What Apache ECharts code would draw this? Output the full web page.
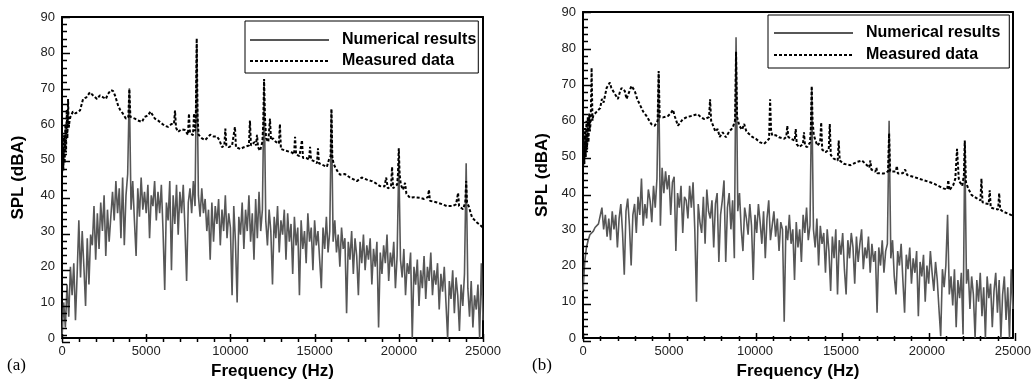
<!DOCTYPE html>
<html>
<head>
<meta charset="utf-8">
<script src="https://cdn.jsdelivr.net/npm/echarts@6/dist/echarts.min.js"></script>
<style>
  html, body { margin: 0; padding: 0; background: #fff; }
  #chart { width: 1034px; height: 385px; }
</style>
</head>
<body>
<div id="chart"></div>
<script>
// numerical results, one value every 100 Hz from 0 to 25000 Hz
const freqStep = 100
const numA = [
  0, 10, 3, 15, 6, 20, 12, 21, 5, 18,
  33, 17, 30, 20, 9, 28, 15, 29, 26, 37,
  22, 35, 25, 38, 30, 40, 23, 36, 27, 34,
  41, 33, 44, 35, 42, 28, 45, 26, 40, 46,
  70, 36, 44, 33, 23, 42, 34, 45, 36, 41,
  35, 43, 28, 40, 37, 44, 33, 41, 35, 43,
  30, 13.5, 38, 33, 44, 19, 40, 32, 43, 29,
  41, 35, 43, 31, 16, 38, 42, 35, 44, 37,
  82, 40, 34, 42, 35, 39, 30, 36, 22, 38,
  27, 37, 32, 39, 26, 36, 30, 40, 28, 35,
  31, 12, 37, 27, 10, 34, 29, 38, 25, 36,
  30, 40, 27, 35, 22, 39, 28, 41, 30, 36,
  72, 33, 26, 36, 30, 15, 34, 28, 37, 24,
  33, 29, 36, 22, 35, 27, 32, 18, 34, 26,
  31, 12, 33, 25, 30, 21, 35, 27, 31, 19,
  33, 26, 30, 22, 14, 31, 25, 34, 24, 30,
  64, 27, 33, 24, 29, 20, 31, 25, 28, 7,
  27, 22, 30, 18, 28, 23, 12, 27, 21, 29,
  19, 26, 22, 28, 15, 25, 20, 27, 3, 24,
  18, 26, 21, 29, 16, 24, 20, 27, 14, 23,
  50, 22, 17, 25, 12, 21, 18, 24, 0, 20,
  15, 22, 9, 19, 14, 23, 11, 20, 16, 24,
  12, 19, 15, 21, 8, 18, 13, 20, 10, 0,
  16, 11, 19, 7, 17, 12, 2, 15, 9, 18,
  49, 14, 6, 16, 3, 12, 8, 15, 0, 21,
  5
]
const numB = [
  13, 21, 25, 27, 28.5, 29, 29.5, 30.5, 31, 31.5,
  32, 36, 30, 34, 28, 33, 27, 35, 30, 34,
  25, 33, 37, 29, 17.5, 35, 38.5, 31, 20, 34,
  37, 29, 39, 34, 44, 31, 37, 33, 41, 38,
  32, 42, 36, 44, 73, 31, 47, 40, 46, 41,
  45, 34, 43, 44.5, 24, 40, 36, 42, 29, 39,
  38, 33, 42, 36, 43, 30, 10, 37, 32, 29,
  39, 26, 41, 35, 33, 38, 25, 37, 40, 21,
  34, 38, 43.5, 21, 36, 40, 30, 38, 22, 83,
  35, 40, 30, 24, 36, 33, 28.5, 37, 31, 16,
  34, 29, 37, 32, 26, 35, 22, 33, 38, 27,
  31, 35, 28, 33, 24, 32, 30, 4.5, 31, 27,
  34, 26, 30, 16, 32, 25, 30, 21, 34, 29,
  36, 27, 31, 69, 30, 25, 33, 20, 31, 26,
  29, 18, 30, 24, 13, 28, 22, 30, 12, 27,
  23, 29, 19, 12, 27, 22, 29, 25, 15, 28,
  21, 26, 30, 19, 25, 22, 28, 18, 26, 21,
  24, 7, 25, 20, 27, 18, 24, 26, 60, 22,
  27, 17, 12, 24, 20, 26, 16, 7, 23, 19,
  25, 15, 22, 18, 24, 6, 21, 17, 23, 10,
  20, 15, 24, 18, 13, 21, 16, 8, 0.5, 19,
  14, 20, 34, 12, 17, 9, 19, 3, 16, 11,
  18, 1, 54, 15, 19, 8, 17, 12, 0, 16,
  10, 18, 6, 14, 0, 17, 11, 15, 3, 13,
  18, 7, 16, 0, 12, 17, 5, 14, 0, 19,
  8
]

const measFreqA = [0, 40, 80, 120, 160, 200, 240, 280, 320, 360, 400, 450, 500, 650, 800, 1070, 1250, 1450, 1660, 1850,
  2080, 2250, 2440, 2600, 2730, 2900, 3030, 3150, 3330, 3450, 3620, 3800, 3940, 4000, 4060, 4330, 4500, 4750, 4900,
  5110, 5250, 5520, 5700, 5940, 6100, 6290, 6500, 6650, 6710, 6770, 6890, 7100, 7300, 7480, 7540, 7600, 7780, 7840,
  7900, 7950, 8000, 8050, 8110, 8310, 8500, 8610, 8800, 9000, 9200, 9350, 9500, 9640, 9700, 9760, 9900, 10100, 10210,
  10270, 10330, 10600, 10800, 11100, 11160, 11220, 11450, 11520, 11580, 11640, 11760, 11900, 11950, 12000, 12050,
  12120, 12250, 12300, 12350, 12410, 12530, 12700, 12880, 12940, 13000, 13300, 13660, 13780, 13840, 13900, 14100,
  14190, 14250, 14310, 14500, 14670, 14730, 14790, 15000, 15140, 15200, 15260, 15500, 15730, 15850, 15950, 16000,
  16050, 16120, 16210, 16390, 16510, 16800, 17100, 17510, 17800, 18110, 18400, 18600, 18880, 19150, 19250, 19350,
  19540, 19600, 19660, 19770, 19900, 19950, 20000, 20050, 20120, 20250, 20370, 20450, 20660, 20900, 21260, 21500,
  21730, 21790, 21850, 22270, 22600, 22860, 23200, 23400, 23460, 23520, 23580, 23810, 23950, 24000, 24050, 24150,
  24350, 24640, 25000]
const measSplA = [45, 53, 47, 57, 49, 60, 52, 64, 56, 67, 59, 61, 62, 63.5, 63, 63.8, 67, 67.5, 68.9, 68,
  67, 68, 67.5, 67, 68.4, 69.5, 69.3, 68, 65.2, 64, 62.9, 61.5, 62, 69.8, 62, 61.5, 61, 60.6, 62,
  62.4, 63.5, 61.5, 61, 60.1, 59.5, 59.2, 60, 60, 63.8, 59, 57.8, 58.5, 58.3, 57, 62.9, 57.5, 56.9, 63,
  58, 63, 84, 62, 57, 56, 55.5, 55.5, 57, 56.5, 56.5, 55.5, 53.5, 54, 58.7, 54, 53.5, 54, 54,
  59.2, 53.5, 53, 53.5, 54, 61, 54, 55, 54, 57, 53.5, 52.5, 55, 60, 72.6, 62,
  56, 55, 55, 61.5, 55.5, 56, 55, 54.5, 60, 53, 52.5, 52, 51.5, 56.4, 51.5, 51,
  51, 55.5, 50.5, 50.5, 50, 53.6, 50, 49.5, 49, 53.2, 49, 48.5, 48, 50, 51, 64.3,
  51, 49, 48, 46.5, 45.8, 46, 45, 44, 45, 44.4, 44, 43.5, 42.6, 42.5, 45, 42,
  42.5, 48, 42, 41.6, 43, 46, 53.2, 46, 43, 41.6, 43.5, 40.5, 39.3, 39.5, 39.3, 39,
  39.5, 41.6, 38.5, 38, 37.5, 37, 37, 37.5, 38, 40.7, 37, 36.1, 38, 44, 38, 37,
  33.8, 32.4, 31]

const measFreqB = [0, 40, 80, 120, 160, 200, 240, 280, 320, 360, 400, 450, 500, 550, 600, 800, 1000, 1100, 1200, 1370,
  1560, 1650, 1740, 1900, 2030, 2150, 2240, 2430, 2530, 2620, 2820, 3010, 3150, 3300, 3500, 3690, 3980, 4170, 4340,
  4400, 4460, 4650, 4940, 5100, 5230, 5350, 5520, 5800, 6050, 6290, 6670, 6850, 7060, 7330, 7390, 7450, 7540, 7700,
  7830, 7950, 8120, 8310, 8500, 8700, 8840, 8900, 8960, 9090, 9250, 9370, 9500, 9660, 9850, 10050, 10300, 10530,
  10820, 10880, 10940, 11010, 11200, 11400, 11700, 11820, 11880, 11940, 12080, 12310, 12370, 12430, 12560, 12790,
  12850, 12910, 13040, 13200, 13250, 13300, 13350, 13420, 13620, 13790, 13850, 13910, 14100, 14290, 14350, 14410,
  14580, 14810, 14870, 14930, 15160, 15550, 15930, 16220, 16510, 16650, 16710, 16770, 17000, 17060, 17120, 17480,
  17740, 17800, 17860, 17960, 18190, 18250, 18310, 18600, 18730, 18850, 19210, 19790, 20370, 20950, 21180, 21240,
  21300, 21530, 21650, 21750, 21850, 21910, 22050, 22150, 22200, 22270, 22400, 22590, 22880, 23110, 23170, 23230,
  23360, 23590, 23650, 23710, 23840, 24140, 24200, 24260, 24420, 24880, 25000]
const measSplB = [46, 56, 48, 58, 50, 60, 52, 61, 54, 62, 57, 60, 74.6, 60, 61.5, 62.5, 63.5, 66, 65, 69,
  70.5, 69, 69.5, 67, 66, 68, 69, 68.2, 66, 65.5, 69.6, 68.2, 66, 64.5, 62.5, 61.3, 59, 58.6, 60,
  73.7, 61, 60.9, 61.3, 62, 63, 61, 58.6, 60.4, 61, 61.3, 61.8, 61, 60.4, 61, 65.9, 60, 59.5, 57,
  57.7, 55.5, 56.8, 55.4, 57, 58, 60, 79, 61, 58.6, 57.5, 59.1, 57, 56.3, 55.5, 55, 54, 53.6,
  55, 65.9, 57, 55.9, 56, 55.4, 55, 55.5, 58.6, 55.5, 55, 54.5, 57.7, 53.5, 52.7, 53.5,
  56.8, 53, 52.7, 54, 58, 69.6, 60, 56, 53.1, 54, 59.5, 52, 51.3, 52, 59.1, 50.5,
  49.5, 49, 54.5, 49, 48.1, 47.7, 48.6, 49, 47.7, 47, 49, 46.5, 45.9, 47, 45.5, 45.4,
  46, 56.5, 46, 45.9, 46, 47.5, 45.4, 45.5, 46.5, 45, 44.5, 43.6, 42.7, 41.3, 41, 43.6,
  40.8, 42.2, 44, 52.2, 44, 43.1, 42, 45, 54.5, 43, 41.3, 39.5, 38.6, 38, 44, 37.5,
  37.2, 37, 40.8, 36, 35.8, 35.5, 40, 35.5, 34.9, 34, 33.8]

const font = 'Liberation Sans, Arial, sans-serif'
const gray = '#575757'
const frameLine = { show: true, onZero: false, lineStyle: { color: '#000', width: 2 } }
const xRange = { min: 0, max: 25000, interval: 5000 }
const yRange = { min: 0, max: 90, interval: 10 }
// minor tick steps (major ones come from the intervals above)
const xMinorStep = 1000
const yMinorStep = 2

const panels = [
  { left: 62, top: 17, width: 421, height: 325, xGap: 24, yGap: 35 },
  { left: 583, top: 12, width: 432, height: 329, xGap: 25, yGap: 32 }
]

const grids = panels.map(p => ({ left: p.left, top: p.top, width: p.width, height: p.height }))
const xAxes = []
const yAxes = []

panels.forEach((p, i) => {
  xAxes.push({
    type: 'value', gridIndex: i, position: 'bottom', ...xRange,
    name: 'Frequency (Hz)', nameLocation: 'middle', nameGap: p.xGap,
    nameTextStyle: { fontFamily: font, fontSize: 17, fontWeight: 'bold', color: '#000' },
    axisLine: frameLine, axisTick: { show: false }, splitLine: { show: false },
    axisLabel: { fontFamily: font, fontSize: 13, color: '#222', margin: 7, formatter: v => String(v) }
  })
  yAxes.push({
    type: 'value', gridIndex: i, position: 'left', ...yRange,
    name: 'SPL (dBA)', nameLocation: 'middle', nameGap: p.yGap,
    nameTextStyle: { fontFamily: font, fontSize: 17, fontWeight: 'bold', color: '#000' },
    axisLine: frameLine, axisTick: { show: false }, splitLine: { show: false },
    axisLabel: { fontFamily: font, fontSize: 13, color: '#222', margin: 7 }
  })
})
// plain axes on the top and right close the frame
panels.forEach((p, i) => {
  xAxes.push({ type: 'value', gridIndex: i, position: 'top', ...xRange, axisLine: frameLine,
    axisTick: { show: false }, axisLabel: { show: false }, splitLine: { show: false } })
  yAxes.push({ type: 'value', gridIndex: i, position: 'right', ...yRange, axisLine: frameLine,
    axisTick: { show: false }, axisLabel: { show: false }, splitLine: { show: false } })
})

// inward ticks along the bottom and left frame
const ticks = []
panels.forEach(p => {
  const bottom = p.top + p.height
  for (let v = xRange.min; v <= xRange.max; v += xMinorStep) {
    const x = Math.round(p.left + (v - xRange.min) / (xRange.max - xRange.min) * p.width) + 0.5
    const len = v % xRange.interval === 0 ? 8 : 5
    ticks.push({ type: 'rect', silent: true, z: 100, shape: { x: x - 0.75, y: bottom - len, width: 1.5, height: len }, style: { fill: '#000' } })
  }
  for (let v = yRange.min; v <= yRange.max; v += yMinorStep) {
    const y = Math.round(bottom - (v - yRange.min) / (yRange.max - yRange.min) * p.height) + 0.5
    const len = v % yRange.interval === 0 ? 8 : 5
    ticks.push({ type: 'rect', silent: true, z: 100, shape: { x: p.left, y: y - 0.75, width: len, height: 1.5 }, style: { fill: '#000' } })
  }
})

function legendFor(left, top, padding, itemGap) {
  return {
    orient: 'vertical', left, top, padding, itemGap,
    selectedMode: false,
    data: ['Numerical results', 'Measured data'],
    itemWidth: 79, itemHeight: 14,
    itemStyle: { opacity: 0 },
    backgroundColor: '#fff',
    borderColor: '#000', borderWidth: 1,
    textStyle: { fontFamily: font, fontSize: 16, fontWeight: 'bold', color: '#000', lineHeight: 20, padding: [0, 0, 0, 8] }
  }
}

function numSeries(values, idx) {
  return {
    name: 'Numerical results', type: 'line', xAxisIndex: idx, yAxisIndex: idx,
    data: values.map((v, i) => [i * freqStep, v]),
    symbol: 'none', color: gray,
    lineStyle: { color: gray, width: 1.6 }
  }
}

function measSeries(freqs, spl, idx) {
  return {
    name: 'Measured data', type: 'line', xAxisIndex: idx, yAxisIndex: idx,
    data: freqs.map((f, i) => [f, spl[i]]),
    symbol: 'none', color: '#000',
    lineStyle: { color: '#000', width: 2, type: [3, 2] }
  }
}

const labels = [
  { type: 'text', left: 7, top: 357, style: { text: '(a)', font: '17px "Liberation Serif", serif', fill: '#000' } },
  { type: 'text', left: 532, top: 357, style: { text: '(b)', font: '17px "Liberation Serif", serif', fill: '#000' } }
]

const chart = echarts.init(document.getElementById('chart'))
chart.setOption({
  animation: false,
  grid: grids,
  xAxis: xAxes,
  yAxis: yAxes,
  legend: [
    legendFor(245, 21, [9, 2, 2, 4], 1),
    legendFor(768, 15, [8, 9, 3, 5], 2)
  ],
  graphic: { elements: labels.concat(ticks) },
  series: [
    numSeries(numA, 0),
    measSeries(measFreqA, measSplA, 0),
    numSeries(numB, 1),
    measSeries(measFreqB, measSplB, 1)
  ]
})
</script>
</body>
</html>
